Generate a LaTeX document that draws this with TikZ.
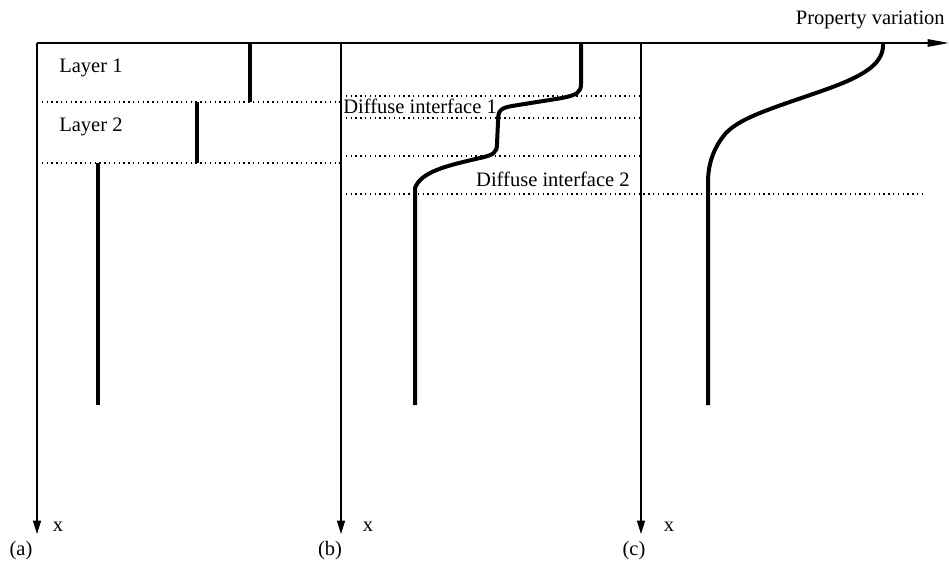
\documentclass[tikz,border=0pt]{standalone}
\usepackage{fontspec}
\setmainfont{Liberation Serif}
\usetikzlibrary{arrows.meta}
\begin{document}
\begin{tikzpicture}[x=0.75pt,y=-0.75pt,
  lbl/.style={inner sep=0pt,font=\fontsize{15.4}{18}\selectfont},
  axisline/.style={line width=1pt,-{Triangle[length=10pt,width=6pt]}},
  topaxis/.style={line width=1.3pt,-{Triangle[length=16pt,width=5.5pt]}},
  prof/.style={line width=3pt},
  dotline/.style={line width=1.1pt,dash pattern=on 1pt off 2.6pt}]
\useasboundingbox (0,0) rectangle (949,561);
% coordinates
\coordinate (o) at (37,43);
\coordinate (tip) at (949,43);
\coordinate (aTop) at (37,43);  \coordinate (aBot) at (37,534);
\coordinate (bTop) at (341,43); \coordinate (bBot) at (341,534);
\coordinate (cTop) at (641,43); \coordinate (cBot) at (641,534);
% dotted lines
\coordinate (d1l) at (37,102);  \coordinate (d1r) at (341,102);
\coordinate (d2l) at (37,163);  \coordinate (d2r) at (341,163);
\coordinate (e1l) at (341,96);  \coordinate (e1r) at (641,96);
\coordinate (e2l) at (341,118); \coordinate (e2r) at (641,118);
\coordinate (e3l) at (341,156); \coordinate (e3r) at (641,156);
\coordinate (e4l) at (341,194); \coordinate (e4r) at (925,194);
\draw[dotline] (d1l) -- (d1r);
\draw[dotline] (d2l) -- (d2r);
\draw[dotline] (e1l) -- (e1r);
\draw[dotline] (e2l) -- (e2r);
\draw[dotline] (e3l) -- (e3r);
\draw[dotline] (e4l) -- (e4r);
% axes
\draw[axisline] (aTop) -- (aBot);
\draw[axisline] (bTop) -- (bBot);
\draw[axisline] (cTop) -- (cBot);
\draw[topaxis] (o) -- (tip);
% profile (a)
\coordinate (p1a) at (250,43);  \coordinate (p1b) at (250,102);
\coordinate (p2a) at (197,102); \coordinate (p2b) at (197,163);
\coordinate (p3a) at (98,163);  \coordinate (p3b) at (98,405);
\draw[prof] (p1a) -- (p1b);
\draw[prof] (p2a) -- (p2b);
\draw[prof] (p3a) -- (p3b);
% profile (b)
\coordinate (qa) at (581,43);
\coordinate (qb) at (415,405);
\draw[prof,line join=round] (qa) -- (581,84)
  .. controls (581,93) and (576,95) .. (562,98)
  -- (512,106)
  .. controls (499,108) and (498,112) .. (498,122)
  -- (497,144)
  .. controls (497,153) and (493,155) .. (480,158)
  .. controls (445,166) and (421,172) .. (415,188)
  -- (qb);
% profile (c)
\coordinate (ra) at (883,43);
\coordinate (rb) at (708,405);
\draw[prof,line join=round] (ra)
  .. controls (884,62) and (868,74) .. (830,88)
  .. controls (780,106) and (742,116) .. (726,133)
  .. controls (713,148) and (708,165) .. (708,182)
  -- (rb);
% labels
\node[lbl,anchor=east] (pv) at (945,20) {Property variation};
\node[lbl,anchor=west] (l1) at (59,68) {Layer 1};
\node[lbl,anchor=west] (l2) at (59,127) {Layer 2};
\node[lbl,anchor=west] (di1) at (343,106) {Diffuse interface 1};
\node[lbl,anchor=east] (di2) at (630,179) {Diffuse interface 2};
\node[lbl] (xa) at (58,527) {x};
\node[lbl] (xb) at (368,527) {x};
\node[lbl] (xc) at (669,527) {x};
\node[lbl] (ca) at (21,551) {(a)};
\node[lbl] (cb) at (330,551) {(b)};
\node[lbl] (cc) at (634,551) {(c)};
\end{tikzpicture}
\end{document}
